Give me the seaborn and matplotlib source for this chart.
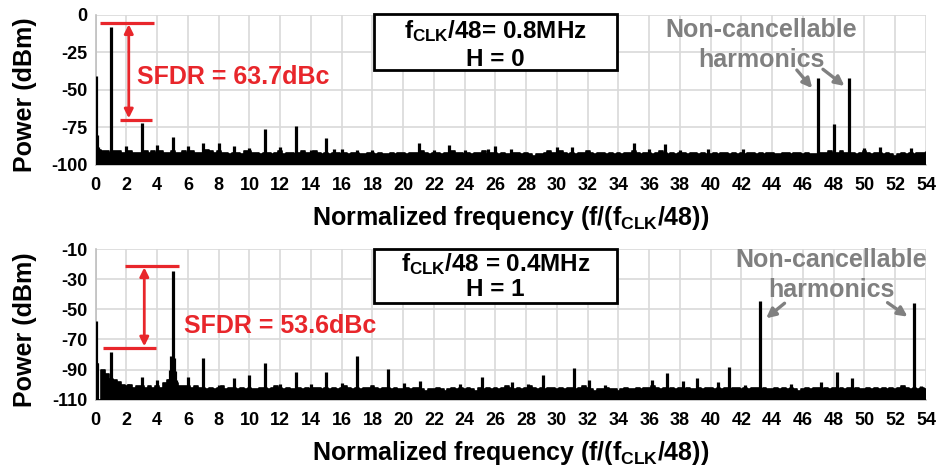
import numpy as np
import pandas as pd
import matplotlib
matplotlib.use("Agg")
import matplotlib.pyplot as plt
from matplotlib.patches import Rectangle
from matplotlib.ticker import MultipleLocator
import seaborn as sns

# ---------------- data ----------------
# noise-floor envelope sampled every 0.25 harmonic (0 ... 54)
bin_step = 0.25

floor_h0 = [
    -90, -90, -91, -91,  -92, -91, -91, -92,  -92, -91, -92, -92,  -92, -91, -92, -91,
    -92, -91, -92, -92,  -91, -92, -92, -91,  -92, -91, -92, -92,  -92, -90, -91, -92,
    -91, -92, -92, -93,  -92, -92, -93, -91,  -91, -92, -92, -93,  -92, -92, -93, -92,
    -91, -93, -92, -92,  -93, -92, -91, -92,  -92, -91, -92, -93,  -92, -93, -92, -92,
    -93, -92, -93, -92,  -92, -93, -93, -92,  -92, -93, -92, -93,  -93, -92, -93, -92,
    -92, -93, -92, -92,  -92, -91, -92, -93,  -92, -92, -93, -92,  -92, -91, -92, -92,
    -93, -92, -93, -92,  -92, -91, -93, -92,  -92, -93, -92, -93,  -93, -92, -92, -93,
    -92, -93, -94, -93,  -93, -92, -91, -92,  -92, -91, -92, -93,  -92, -93, -92, -92,
    -91, -92, -93, -92,  -92, -93, -92, -93,  -92, -93, -92, -92,  -91, -92, -93, -92,
    -92, -93, -92, -91,  -92, -93, -92, -93,  -92, -92, -93, -92,  -92, -93, -92, -93,
    -93, -92, -93, -92,  -92, -93, -92, -93,  -92, -93, -92, -92,  -93, -92, -93, -92,
    -92, -93, -93, -92,  -92, -93, -92, -92,  -93, -92, -93, -93,  -93, -92, -92, -91,
    -92, -92, -91, -92,  -92, -92, -93, -92,  -91, -92, -93, -92,  -92, -93, -92, -93,
    -94, -93, -92, -93,  -92, -93, -92, -92,  -92,
]

floor_h1 = [
    -86, -110, -90, -93,  -96, -97, -98, -100,  -101, -100, -102, -101,  -101, -102, -101, -102,
    -101, -102, -99, -97,  -92, -99, -101, -101,  -101, -102, -101, -102,  -102, -103, -102, -103,
    -102, -101, -103, -102,  -102, -103, -102, -103,  -102, -103, -103, -102,  -102, -103, -102, -101,
    -102, -103, -102, -103,  -103, -102, -103, -102,  -103, -102, -102, -103,  -102, -103, -102, -103,
    -102, -101, -102, -103,  -102, -103, -102, -102,  -101, -102, -103, -102,  -102, -103, -102, -103,
    -103, -102, -103, -102,  -102, -103, -104, -103,  -103, -102, -103, -104,  -103, -102, -103, -102,
    -103, -102, -103, -104,  -102, -103, -102, -103,  -102, -103, -102, -101,  -102, -103, -102, -103,
    -102, -101, -102, -103,  -102, -103, -102, -102,  -103, -102, -103, -102,  -102, -103, -102, -101,
    -102, -103, -104, -103,  -103, -102, -103, -103,  -104, -103, -102, -103,  -103, -102, -103, -102,
    -102, -101, -102, -103,  -102, -103, -102, -103,  -102, -103, -102, -103,  -103, -102, -103, -102,
    -102, -103, -102, -103,  -102, -103, -102, -102,  -103, -102, -103, -102,  -102, -103, -102, -103,
    -103, -102, -103, -102,  -103, -102, -103, -104,  -103, -102, -103, -102,  -102, -103, -102, -103,
    -102, -103, -102, -103,  -102, -103, -102, -103,  -103, -102, -103, -102,  -103, -102, -103, -102,
    -103, -102, -101, -102,  -103, -102, -103, -102,  -103,
]

# discrete spectral lines: (normalized frequency, power in dBm)
spur_freq_h0 = [0, 0.06, 0.12, 1, 2, 3, 4, 5, 6, 7, 8, 9, 10, 11, 12, 13, 14, 15,
                15.5, 16, 17, 18, 21, 22, 23, 24, 25.5, 26, 27, 30, 31, 35, 36,
                37, 38, 39.8, 42.1, 47, 48, 49, 50, 51, 53, 54]
spur_pow_h0 = [-41, -80, -88, -8.4, -87.5, -72.1, -86.9, -81.8, -87.5, -85.3, -85.7,
               -87.5, -88.6, -76.4, -88, -74.5, -90, -82.4, -89.7, -89.7, -90.5,
               -90.2, -85.3, -90.2, -86.9, -90.2, -89.7, -87.5, -89.7, -88.5, -88,
               -85.7, -89.7, -86, -90.5, -89.7, -89.7, -42.4, -72.9, -42.4, -89,
               -88, -88.6, -91]

spur_freq_h1 = [0, 0.1, 0.45, 1, 2.1, 3, 4, 4.75, 4.85, 4.92, 5, 5.08, 5.15, 5.25,
                6, 7, 8, 9, 10, 11, 12, 13, 14, 15, 16, 17, 19.04, 20.06, 21.1,
                23.7, 25.1, 27.1, 28.1, 29.1, 31.1, 32.1, 33.1, 36.2, 37.15, 38.2,
                39.1, 40.5, 41.2, 42.2, 43.2, 45.2, 47.2, 48.2, 49.2, 53.2, 53.7]
spur_pow_h1 = [-58, -85.4, -90.3, -78.2, -99.5, -95, -97.2, -96, -90, -81, -24.6,
               -82, -91, -97, -95, -82.1, -100, -95.8, -93.6, -85.9, -99.5, -91.4,
               -99.5, -91.4, -99, -81, -89.8, -99, -97.6, -99.5, -94.7, -98, -99.5,
               -93.6, -89.2, -97.2, -100, -97.2, -92, -97.6, -95.8, -98, -88.5,
               -100, -44.3, -99.5, -98, -91.8, -95.5, -45.6, -101]

x_ticks = list(range(0, 55, 2))
y_ticks_h0 = [-100, -75, -50, -25, 0]
y_ticks_h1 = [-110, -90, -70, -50, -30, -10]

box_h0 = [r"$f_{CLK}$/48= 0.8MHz", "H = 0"]
box_h1 = [r"$f_{CLK}$/48 = 0.4MHz", "H = 1"]
sfdr_h0 = "SFDR = 63.7dBc"
sfdr_h1 = "SFDR = 53.6dBc"

# ---------------- style ----------------
sns.set_theme(style="white")
plt.rcParams["font.family"] = ["Liberation Sans", "DejaVu Sans"]
plt.rcParams["font.weight"] = "bold"
plt.rcParams["axes.unicode_minus"] = False
plt.rcParams["mathtext.fontset"] = "custom"
plt.rcParams["mathtext.rm"] = "Liberation Sans:bold"
plt.rcParams["mathtext.it"] = "Liberation Sans:bold"
plt.rcParams["mathtext.bf"] = "Liberation Sans:bold"
plt.rcParams["mathtext.sf"] = "Liberation Sans:bold"

RED = "#E8262B"
GRAY = "#808080"
GRID = "#d9d9d9"

W, H = 943, 474
fig = plt.figure(figsize=(W / 100, H / 100), dpi=100)
ax_top = fig.add_axes([95.7 / W, 1 - 164.7 / H, (926 - 95.7) / W, 150 / H])
ax_bot = fig.add_axes([95.7 / W, 1 - 399.7 / H, (926 - 95.7) / W, 150.7 / H])


def draw_panel(ax, floor, sf, sp, ylo, yhi, yticks):
    freq = np.arange(len(floor)) * bin_step
    df = pd.DataFrame({"f": freq, "p": floor})
    ax.fill_between(df["f"], ylo, df["p"], step="mid", color="black", lw=0, zorder=3)
    sns.lineplot(data=df, x="f", y="p", ax=ax, color="black", lw=1.2,
                 drawstyle="steps-mid", zorder=3)
    ax.vlines(sf, ylo, sp, color="black", lw=2.3, zorder=3)

    ax.set_xlim(0, 54)
    ax.set_ylim(ylo, yhi)
    ax.set_xticks(x_ticks)
    ax.xaxis.set_minor_locator(MultipleLocator(1))
    ax.set_yticks(yticks)
    ax.grid(True, which="major", color=GRID, lw=1.2, zorder=0)
    ax.set_axisbelow(True)
    for s in ("top", "right"):
        ax.spines[s].set_visible(False)
    for s in ("left", "bottom"):
        ax.spines[s].set_color("#bfbfbf")
        ax.spines[s].set_linewidth(1.2)
    ax.tick_params(axis="both", which="both", direction="out", color="#bfbfbf",
                   length=4, width=1.2, labelsize=13, labelcolor="black")
    ax.tick_params(axis="x", which="both", pad=5)
    ax.tick_params(axis="y", pad=2)
    for lab in ax.get_xticklabels() + ax.get_yticklabels():
        lab.set_fontweight("bold")

    ax.set_xlabel(r"Normalized frequency (f/($f_{CLK}$/48))", fontsize=18,
                  fontweight="bold", color="black")
    ax.set_ylabel("Power (dBm)", fontsize=18, fontweight="bold", color="black")
    ax.xaxis.label.set_va("center")
    ax.yaxis.label.set_va("center")


draw_panel(ax_top, floor_h0, spur_freq_h0, spur_pow_h0, -100, 0, y_ticks_h0)
draw_panel(ax_bot, floor_h1, spur_freq_h1, spur_pow_h1, -110, -10, y_ticks_h1)
ax_top.xaxis.set_label_coords(0.5, -0.355)
ax_bot.xaxis.set_label_coords(0.5, -0.356)
ax_top.yaxis.set_label_coords(-70.7 / 830.3, 0.465)
ax_bot.yaxis.set_label_coords(-70.7 / 830.3, 0.462)


def sfdr_marker(ax, upper, lower, arrow_x, text_xy, text):
    ax.hlines(upper[0], upper[1], upper[2], color=RED, lw=2.3, zorder=5)
    ax.hlines(lower[0], lower[1], lower[2], color=RED, lw=2.3, zorder=5)
    ax.annotate("", xy=(arrow_x, lower[0]), xytext=(arrow_x, upper[0]),
                arrowprops=dict(arrowstyle="<|-|>", color=RED, lw=2.0,
                                mutation_scale=13, shrinkA=1, shrinkB=1),
                zorder=5)
    ax.text(text_xy[0], text_xy[1], text, color=RED, fontsize=18,
            fontweight="bold", ha="left", va="center", zorder=6)


sfdr_marker(ax_top, (-5.5, 0.28, 3.81), (-70, 1.58, 3.64), 2.15, (2.7, -41.3), sfdr_h0)
sfdr_marker(ax_bot, (-21.3, 1.93, 5.44), (-75.5, 0.46, 3.92), 3.16, (5.72, -60.9), sfdr_h1)


def harmonics_note(ax, cx, y1, y2, arrows):
    ax.text(cx, y1, "Non-cancellable", color=GRAY, fontsize=18, fontweight="bold",
            ha="center", va="center", zorder=6)
    ax.text(cx, y2, "harmonics", color=GRAY, fontsize=18, fontweight="bold",
            ha="center", va="center", zorder=6)
    for (x0, y0, x1, y1_) in arrows:
        ax.annotate("", xy=(x1, y1_), xytext=(x0, y0),
                    arrowprops=dict(arrowstyle="-|>", color=GRAY, lw=2.4,
                                    mutation_scale=14, shrinkA=0, shrinkB=0),
                    zorder=6)


harmonics_note(ax_top, 43.3, -10.2, -30.2,
               [(45.6, -36.9, 46.6, -49.0), (47.3, -36.4, 48.7, -47.5)])
harmonics_note(ax_bot, 47.85, -17.3, -37.2,
               [(44.8, -46.0, 43.6, -56.0), (51.5, -45.6, 52.8, -54.9)])


def info_box(top_px, bottom_px, line1_px, line2_px, lines):
    x0, x1 = 374, 617
    fig.add_artist(Rectangle((x0 / W, 1 - bottom_px / H), (x1 - x0) / W,
                             (bottom_px - top_px) / H, transform=fig.transFigure,
                             facecolor="white", edgecolor="black", lw=2.0, zorder=10))
    cx = (x0 + x1) / 2 / W
    fig.text(cx, 1 - line1_px / H, lines[0], fontsize=17.5, fontweight="bold",
             ha="center", va="center", color="black", zorder=11)
    fig.text(cx, 1 - line2_px / H, lines[1], fontsize=17.5, fontweight="bold",
             ha="center", va="center", color="black", zorder=11)


info_box(14.5, 69.5, 31, 59, box_h0)
info_box(248.5, 303, 264, 290, box_h1)

fig.savefig("out.png", dpi=100, facecolor="white")
